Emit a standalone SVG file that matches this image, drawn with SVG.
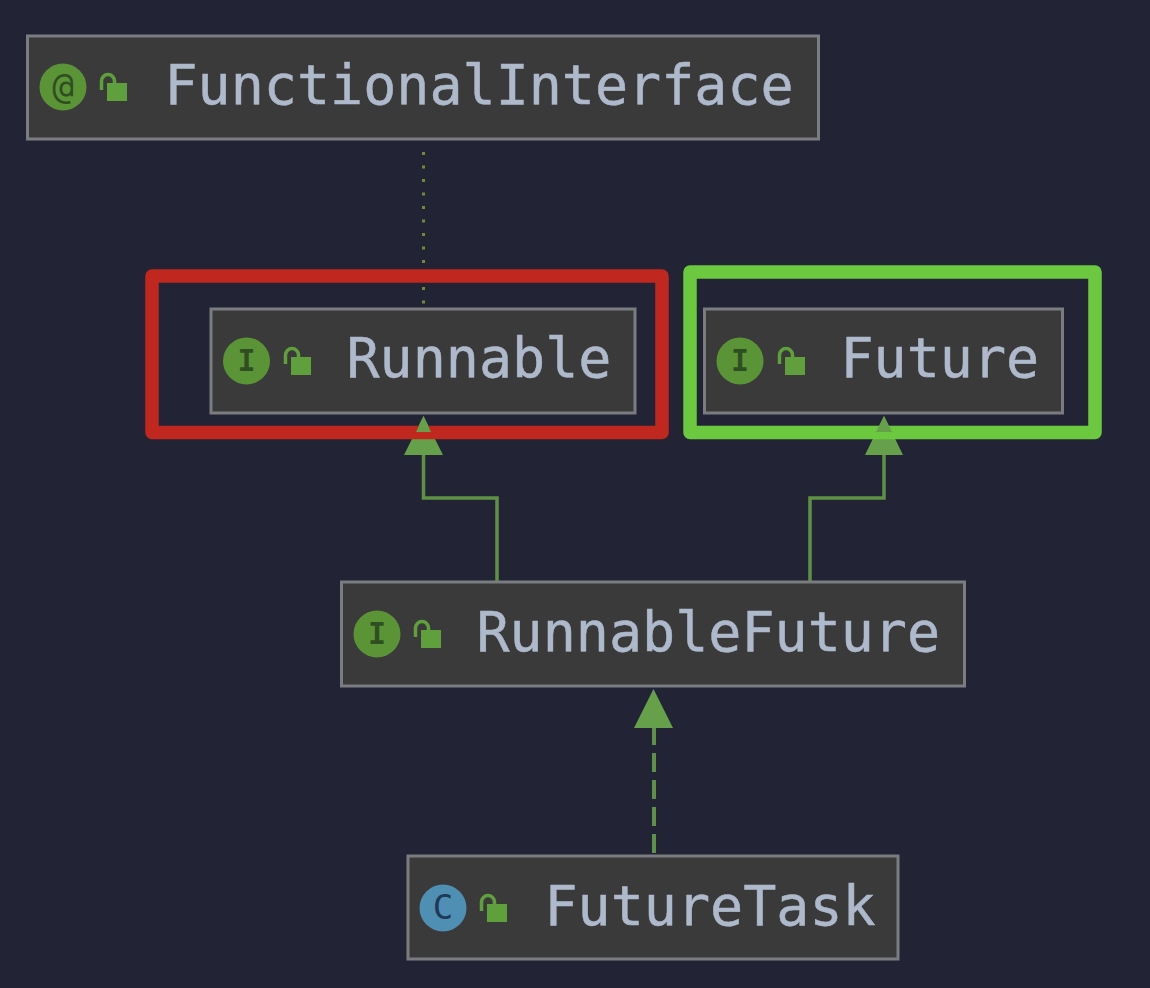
<svg xmlns="http://www.w3.org/2000/svg" width="1150" height="988" viewBox="0 0 1150 988">
<style>
.box{fill:#3a3a3a;stroke:#7b7c80;stroke-width:3}
.label{font-family:"DejaVu Sans Mono",monospace;font-size:55px;fill:#aeb9cb;stroke:#aeb9cb;stroke-width:.5}
.glyph{font-family:"DejaVu Sans Mono",monospace;font-size:30px;font-weight:bold;text-anchor:middle;fill:#2f4f22}
.thin{font-weight:normal}
.badge{fill:#5b9437}
.lockb{fill:#5fa03c}
.locks{fill:none;stroke:#5fa03c;stroke-width:3.500}
.edge{fill:none;stroke:#5f9144;stroke-width:3.500}
.dash{stroke-width:4;stroke-dasharray:19 8}
.head{fill:#66a04a}
</style>
<defs>
<g id="lock"><rect x="8" y="11" width="20" height="18" class="lockb"/><path d="M2.500 18V9a6.500 6.500 0 0 1 13 0v3" class="locks"/></g>
</defs>
<rect width="1150" height="988" fill="#222436"/>
<g id="connectors">
<path d="M423.500 152V304" fill="none" stroke="#6f8c30" stroke-width="3" stroke-dasharray="3 10.500"/>
<path d="M497 581V498H423.500V450" class="edge"/>
<path d="M810 581V498H884V450" class="edge"/>
<path d="M654 853V726" class="edge dash"/>
<path d="M423.500 416L443 455H404Z" class="head"/>
<path d="M884 416L903 455H865Z" class="head"/>
<path d="M653.500 689L673 728H634Z" class="head"/>
</g>
<g id="functionalinterface">
<rect x="27.500" y="36" width="791" height="103" class="box"/>
<circle cx="63" cy="87" r="23.500" class="badge"/>
<text x="63" y="98" class="glyph thin" style="font-size:36px">@</text>
<use href="#lock" x="99" y="72"/>
<text x="164.500" y="104" class="label">FunctionalInterface</text>
</g>
<g id="runnable">
<rect x="211" y="309" width="424" height="104" class="box"/>
<circle cx="246.500" cy="361" r="23.500" class="badge"/>
<text x="246.500" y="371" class="glyph">I</text>
<use href="#lock" x="283" y="346"/>
<text x="346.500" y="377" class="label">Runnable</text>
</g>
<g id="future">
<rect x="704.500" y="309" width="358" height="104" class="box"/>
<circle cx="740" cy="361" r="23.500" class="badge"/>
<text x="740" y="371" class="glyph">I</text>
<use href="#lock" x="777" y="346"/>
<text x="840.500" y="377" class="label">Future</text>
</g>
<g id="runnablefuture">
<rect x="341.500" y="582" width="623" height="104" class="box"/>
<circle cx="377" cy="634" r="23.500" class="badge"/>
<text x="377" y="644" class="glyph">I</text>
<use href="#lock" x="413" y="619"/>
<text x="476.500" y="651" class="label">RunnableFuture</text>
</g>
<g id="futuretask">
<rect x="408" y="856" width="490" height="103" class="box"/>
<circle cx="443" cy="908" r="23.500" fill="#4f8fb3"/>
<text x="443" y="919" class="glyph thin" style="fill:#1f3a58;font-size:34px">C</text>
<use href="#lock" x="479" y="893"/>
<text x="544.500" y="925" class="label">FutureTask</text>
</g>
<g id="highlights" fill="none" stroke-width="13.500" stroke-linejoin="round">
<rect x="152" y="276" width="510" height="156.500" stroke="#c0271e"/>
<rect x="690" y="272" width="405" height="160.500" stroke="#6cc93f"/>
</g>
<path d="M423.500 416L431 432H416Z" class="head"/>
<path d="M884 416L892 432H876Z" class="head"/>
</svg>
